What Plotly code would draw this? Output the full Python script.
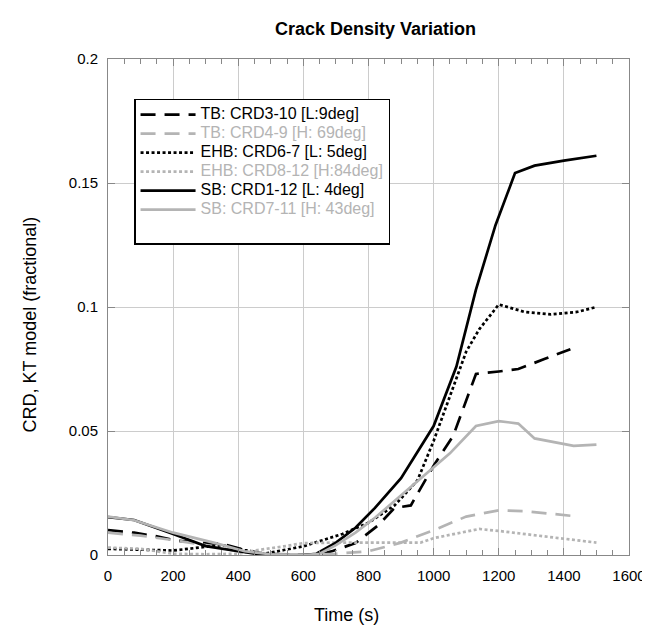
import plotly.graph_objects as go

# ---- data ----
tb_310_x = [0, 80, 150, 210, 280, 350, 420, 480, 560, 640, 690, 760, 830, 880, 930, 1000, 1060, 1130, 1200, 1260, 1340, 1420]
tb_310_y = [0.010, 0.009, 0.0075, 0.0058, 0.005, 0.0045, 0.002, 0.0005, 0.0, 0.0, 0.0016, 0.0048, 0.012, 0.019, 0.020, 0.036, 0.048, 0.073, 0.074, 0.075, 0.079, 0.083]

tb_49_x = [0, 100, 200, 300, 400, 500, 600, 700, 800, 900, 1000, 1100, 1200, 1280, 1430]
tb_49_y = [0.009, 0.0078, 0.006, 0.004, 0.0015, 0.0005, 0.0, 0.0005, 0.0015, 0.005, 0.010, 0.0155, 0.018, 0.0177, 0.0157]

ehb_67_x = [0, 100, 200, 280, 350, 420, 480, 540, 600, 660, 720, 800, 880, 950, 1000, 1050, 1100, 1140, 1200, 1280, 1360, 1440, 1500]
ehb_67_y = [0.0025, 0.002, 0.0018, 0.003, 0.004, 0.002, 0.0005, 0.002, 0.0035, 0.006, 0.0085, 0.013, 0.020, 0.030, 0.046, 0.064, 0.082, 0.091, 0.101, 0.098, 0.097, 0.098, 0.100]

ehb_812_x = [0, 100, 200, 300, 400, 460, 540, 600, 700, 800, 900, 960, 1000, 1060, 1140, 1200, 1260, 1350, 1420, 1500]
ehb_812_y = [0.003, 0.0025, 0.0005, 0.0003, 0.0005, 0.002, 0.0035, 0.0048, 0.005, 0.005, 0.0048, 0.005, 0.0068, 0.0085, 0.0105, 0.0097, 0.0088, 0.0073, 0.0063, 0.005]

sb_112_x = [0, 80, 200, 300, 400, 480, 600, 640, 700, 760, 820, 900, 1000, 1070, 1130, 1190, 1250, 1310, 1400, 1500]
sb_112_y = [0.0153, 0.0141, 0.0085, 0.0036, 0.0015, 0.0, 0.0, 0.0005, 0.005, 0.011, 0.019, 0.031, 0.052, 0.076, 0.107, 0.133, 0.154, 0.157, 0.159, 0.161]

sb_711_x = [0, 80, 200, 330, 420, 500, 600, 650, 700, 760, 820, 900, 1000, 1050, 1130, 1200, 1260, 1310, 1430, 1500]
sb_711_y = [0.0155, 0.014, 0.009, 0.0048, 0.0015, 0.0003, 0.0, 0.0005, 0.004, 0.009, 0.015, 0.024, 0.035, 0.041, 0.052, 0.054, 0.053, 0.047, 0.044, 0.0445]

names = ["TB: CRD3-10 [L:9deg]", "TB: CRD4-9 [H: 69deg]", "EHB: CRD6-7 [L: 5deg]",
         "EHB: CRD8-12 [H:84deg]", "SB: CRD1-12 [L: 4deg]", "SB: CRD7-11 [H: 43deg]"]

BLACK = "#000000"
GRAY = "#b4b4b4"
DASH = "15px,9px"
DOT = "3px,2.5px"

series = [
    (tb_310_x, tb_310_y, names[0], BLACK, DASH),
    (tb_49_x, tb_49_y, names[1], GRAY, DASH),
    (ehb_67_x, ehb_67_y, names[2], BLACK, DOT),
    (ehb_812_x, ehb_812_y, names[3], GRAY, DOT),
    (sb_112_x, sb_112_y, names[4], BLACK, "solid"),
    (sb_711_x, sb_711_y, names[5], GRAY, "solid"),
]

fig = go.Figure()
for x, y, name, color, dash in series:
    label = f"<span style='font-size:16px;color:{color}'>{name}</span>"
    fig.add_trace(go.Scatter(x=x, y=y, mode="lines", name=label,
                             line=dict(color=color, width=2.7, dash=dash)))
# empty legend row: reproduces the extra space at the bottom of the legend box
fig.add_trace(go.Scatter(x=[None], y=[None], mode="lines", name=" ",
                         line=dict(color="rgba(0,0,0,0)", width=0), hoverinfo="skip"))

FONT = "Liberation Sans, Arial, sans-serif"
fig.update_layout(
    width=650, height=627,
    margin=dict(l=100, r=15, t=51, b=80),
    paper_bgcolor="white", plot_bgcolor="white",
    font=dict(family=FONT, size=15, color="black"),
    title=dict(text="<b>Crack Density Variation</b>", x=(100 + 635) / 2 / 650, xanchor="center",
               y=1 - 21 / 627, yanchor="middle", font=dict(size=18, family=FONT)),
    legend=dict(x=0.05, y=0.92, xanchor="left", yanchor="top",
                bgcolor="white", bordercolor="black", borderwidth=1.5,
                font=dict(size=12, family=FONT), tracegroupgap=0, itemwidth=55),
    showlegend=True,
    annotations=[
        dict(text="CRD, KT model (fractional)", textangle=-90, xref="paper", yref="paper",
             x=(20 - 100) / 535, y=0.465, xanchor="center", yanchor="middle", showarrow=False,
             font=dict(size=18, family=FONT)),
        dict(text="Time (s)", xref="paper", yref="paper",
             x=(345 - 100) / 535, y=-(607 - 547) / 496, xanchor="center", yanchor="middle",
             showarrow=False, font=dict(size=18, family=FONT)),
    ],
)
fig.update_xaxes(range=[0, 1600], dtick=200, tick0=0, showgrid=True, gridcolor="#cccccc", gridwidth=1,
                 showline=True, linecolor="#888888", linewidth=1, mirror="ticks",
                 ticks="inside", ticklen=7, tickcolor="#888888", ticklabelstandoff=7,
                 ticklabeloverflow="allow",
                 minor=dict(dtick=50, ticks="inside", ticklen=5, tickcolor="#888888", showgrid=False),
                 zeroline=False)
fig.update_yaxes(range=[0, 0.2], dtick=0.05, tick0=0, showgrid=True, gridcolor="#cccccc", gridwidth=1,
                 showline=True, linecolor="#888888", linewidth=1, mirror="ticks",
                 ticks="inside", ticklen=7, tickcolor="#888888", zeroline=False, ticklabelstandoff=6)

fig.write_html("out.html")
